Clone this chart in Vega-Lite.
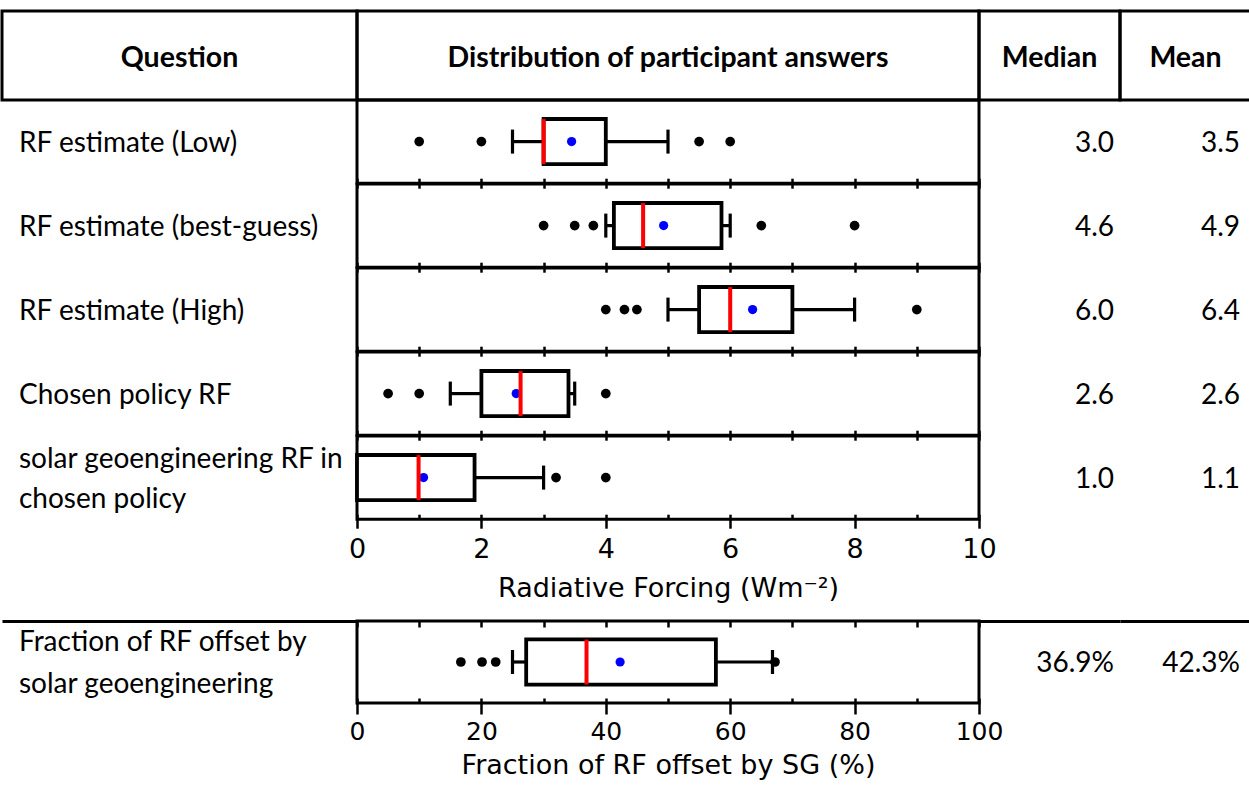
{
  "$schema": "https://vega.github.io/schema/vega-lite/v6.json",
  "padding": {"left": 0, "top": 9, "right": 0, "bottom": 0},
  "background": "white",
  "columns": 4,
  "spacing": 0,
  "bounds": "flush",
  "datasets": {
    "headers": [
      {"h": "Question"},
      {"h": "Distribution of participant answers"},
      {"h": "Median"},
      {"h": "Mean"}
    ],
    "stats": [
      {"key": "low", "q": "RF estimate (Low)", "lo": 2.5, "q1": 3.0, "med": 3.0, "q3": 4.0, "hi": 5.0, "mean": 3.45},
      {"key": "best", "q": "RF estimate (best-guess)", "lo": 4.0, "q1": 4.13, "med": 4.6, "q3": 5.86, "hi": 6.0, "mean": 4.93},
      {"key": "high", "q": "RF estimate (High)", "lo": 5.0, "q1": 5.5, "med": 6.0, "q3": 7.0, "hi": 8.0, "mean": 6.36},
      {"key": "policy", "q": "Chosen policy RF", "lo": 1.5, "q1": 2.0, "med": 2.63, "q3": 3.4, "hi": 3.5, "mean": 2.56},
      {"key": "sg", "q": "solar geoengineering RF in\nchosen policy", "lo": 0, "q1": 0, "med": 0.99, "q3": 1.89, "hi": 3.0, "mean": 1.07},
      {"key": "frac", "q": "Fraction of RF offset by\nsolar geoengineering", "lo": 25.0, "q1": 27.2, "med": 36.9, "q3": 57.7, "hi": 66.8, "mean": 42.3}
    ],
    "outliers": [
      {"key": "low", "v": 1.0}, {"key": "low", "v": 2.0}, {"key": "low", "v": 5.5}, {"key": "low", "v": 6.0},
      {"key": "best", "v": 3.0}, {"key": "best", "v": 3.5}, {"key": "best", "v": 3.8}, {"key": "best", "v": 6.5}, {"key": "best", "v": 8.0},
      {"key": "high", "v": 4.0}, {"key": "high", "v": 4.3}, {"key": "high", "v": 4.5}, {"key": "high", "v": 9.0},
      {"key": "policy", "v": 0.5}, {"key": "policy", "v": 1.0}, {"key": "policy", "v": 4.0},
      {"key": "sg", "v": 3.2}, {"key": "sg", "v": 4.0},
      {"key": "frac", "v": 16.7}, {"key": "frac", "v": 20.1}, {"key": "frac", "v": 22.3}, {"key": "frac", "v": 67.2}
    ]
  },
  "concat": [
    {"width": 355, "height": 89, "view": {"stroke": "black", "strokeWidth": 3}, "data": {"name": "headers"}, "transform": [{"filter": "datum.h === 'Question'"}], "mark": {"type": "text", "fontWeight": "bold", "fontSize": 28.5, "dy": 2}, "encoding": {"text": {"field": "h"}}},
    {"width": 622, "height": 89, "view": {"stroke": "black", "strokeWidth": 3}, "data": {"name": "headers"}, "transform": [{"filter": "datum.h === 'Distribution of participant answers'"}], "mark": {"type": "text", "fontWeight": "bold", "fontSize": 28.5, "dy": 2}, "encoding": {"text": {"field": "h"}}},
    {"width": 141, "height": 89, "view": {"stroke": "black", "strokeWidth": 3}, "data": {"name": "headers"}, "transform": [{"filter": "datum.h === 'Median'"}], "mark": {"type": "text", "fontWeight": "bold", "fontSize": 28.5, "dy": 2}, "encoding": {"text": {"field": "h"}}},
    {"width": 131, "height": 89, "view": {"stroke": "black", "strokeWidth": 3}, "data": {"name": "headers"}, "transform": [{"filter": "datum.h === 'Mean'"}], "mark": {"type": "text", "fontWeight": "bold", "fontSize": 28.5, "dy": 2}, "encoding": {"text": {"field": "h"}}},

    {"width": 355, "height": 83.2, "data": {"name": "stats"}, "transform": [{"filter": "datum.key === 'low'"}], "mark": {"type": "text", "align": "left", "dx": 17, "dy": 2, "lineBreak": "\n", "lineHeight": 40}, "encoding": {"text": {"field": "q"}, "x": {"datum": 0, "type": "quantitative", "scale": {"domain": [0, 1]}, "axis": null}}},
    {"width": 622, "height": 83.2, "view": {"stroke": "black", "strokeWidth": 3}, "data": {"name": "stats"}, "transform": [{"filter": "datum.key === 'low'"}],
     "encoding": {"y": {"field": "key", "type": "nominal", "axis": null, "scale": {"paddingInner": 0, "paddingOuter": 0.42}}},
     "layer": [
      {"mark": {"type": "rule", "color": "black", "strokeWidth": 3.2}, "encoding": {"x": {"field": "lo", "type": "quantitative", "scale": {"domain": [0, 10], "nice": false, "zero": false}, "axis": {"orient": "bottom", "values": [0,1,2,3,4,5,6,7,8,9,10], "labels": false, "domain": false, "tickSize": 10, "tickWidth": 2.5, "tickColor": "black", "offset": -5, "grid": false, "title": null}}, "x2": {"field": "q1"}}},
      {"mark": {"type": "rule", "color": "black", "strokeWidth": 3.2}, "encoding": {"x": {"field": "q3", "type": "quantitative"}, "x2": {"field": "hi"}}},
      {"mark": {"type": "tick", "color": "black", "opacity": 1, "thickness": 3.2, "size": 24, "orient": "vertical"}, "encoding": {"x": {"field": "lo", "type": "quantitative"}}},
      {"mark": {"type": "tick", "color": "black", "opacity": 1, "thickness": 3.2, "size": 24, "orient": "vertical"}, "encoding": {"x": {"field": "hi", "type": "quantitative"}}},
      {"mark": {"type": "bar", "fill": "white", "stroke": "black", "strokeWidth": 3.8, "opacity": 1}, "encoding": {"x": {"field": "q1", "type": "quantitative"}, "x2": {"field": "q3"}}},
      {"mark": {"type": "circle", "color": "#0000ff", "size": 85, "opacity": 1}, "encoding": {"x": {"field": "mean", "type": "quantitative"}}},
      {"mark": {"type": "tick", "color": "#ff0000", "opacity": 1, "thickness": 4, "size": 45, "orient": "vertical"}, "encoding": {"x": {"field": "med", "type": "quantitative"}}},
      {"data": {"name": "outliers"}, "transform": [{"filter": "datum.key === 'low'"}], "mark": {"type": "circle", "color": "black", "size": 95, "opacity": 1}, "encoding": {"x": {"field": "v", "type": "quantitative"}}}
     ]},
    {"width": 141, "height": 83.2, "data": {"name": "stats"}, "transform": [{"filter": "datum.key === 'low'"}], "mark": {"type": "text", "align": "right", "dx": -6, "dy": 2}, "encoding": {"text": {"field": "med", "type": "quantitative", "format": ".1f"}, "x": {"datum": 1, "type": "quantitative", "scale": {"domain": [0, 1]}, "axis": null}}},
    {"width": 131, "height": 83.2, "data": {"name": "stats"}, "transform": [{"filter": "datum.key === 'low'"}], "mark": {"type": "text", "align": "right", "dx": -11, "dy": 2}, "encoding": {"text": {"field": "mean", "type": "quantitative", "format": ".1f"}, "x": {"datum": 1, "type": "quantitative", "scale": {"domain": [0, 1]}, "axis": null}}},

    {"width": 355, "height": 83.2, "data": {"name": "stats"}, "transform": [{"filter": "datum.key === 'best'"}], "mark": {"type": "text", "align": "left", "dx": 17, "dy": 2, "lineBreak": "\n", "lineHeight": 40}, "encoding": {"text": {"field": "q"}, "x": {"datum": 0, "type": "quantitative", "scale": {"domain": [0, 1]}, "axis": null}}},
    {"width": 622, "height": 83.2, "view": {"stroke": "black", "strokeWidth": 3}, "data": {"name": "stats"}, "transform": [{"filter": "datum.key === 'best'"}],
     "encoding": {"y": {"field": "key", "type": "nominal", "axis": null, "scale": {"paddingInner": 0, "paddingOuter": 0.42}}},
     "layer": [
      {"mark": {"type": "rule", "color": "black", "strokeWidth": 3.2}, "encoding": {"x": {"field": "lo", "type": "quantitative", "scale": {"domain": [0, 10], "nice": false, "zero": false}, "axis": {"orient": "bottom", "values": [0,1,2,3,4,5,6,7,8,9,10], "labels": false, "domain": false, "tickSize": 10, "tickWidth": 2.5, "tickColor": "black", "offset": -5, "grid": false, "title": null}}, "x2": {"field": "q1"}}},
      {"mark": {"type": "rule", "color": "black", "strokeWidth": 3.2}, "encoding": {"x": {"field": "q3", "type": "quantitative"}, "x2": {"field": "hi"}}},
      {"mark": {"type": "tick", "color": "black", "opacity": 1, "thickness": 3.2, "size": 24, "orient": "vertical"}, "encoding": {"x": {"field": "lo", "type": "quantitative"}}},
      {"mark": {"type": "tick", "color": "black", "opacity": 1, "thickness": 3.2, "size": 24, "orient": "vertical"}, "encoding": {"x": {"field": "hi", "type": "quantitative"}}},
      {"mark": {"type": "bar", "fill": "white", "stroke": "black", "strokeWidth": 3.8, "opacity": 1}, "encoding": {"x": {"field": "q1", "type": "quantitative"}, "x2": {"field": "q3"}}},
      {"mark": {"type": "circle", "color": "#0000ff", "size": 85, "opacity": 1}, "encoding": {"x": {"field": "mean", "type": "quantitative"}}},
      {"mark": {"type": "tick", "color": "#ff0000", "opacity": 1, "thickness": 4, "size": 45, "orient": "vertical"}, "encoding": {"x": {"field": "med", "type": "quantitative"}}},
      {"data": {"name": "outliers"}, "transform": [{"filter": "datum.key === 'best'"}], "mark": {"type": "circle", "color": "black", "size": 95, "opacity": 1}, "encoding": {"x": {"field": "v", "type": "quantitative"}}}
     ]},
    {"width": 141, "height": 83.2, "data": {"name": "stats"}, "transform": [{"filter": "datum.key === 'best'"}], "mark": {"type": "text", "align": "right", "dx": -6, "dy": 2}, "encoding": {"text": {"field": "med", "type": "quantitative", "format": ".1f"}, "x": {"datum": 1, "type": "quantitative", "scale": {"domain": [0, 1]}, "axis": null}}},
    {"width": 131, "height": 83.2, "data": {"name": "stats"}, "transform": [{"filter": "datum.key === 'best'"}], "mark": {"type": "text", "align": "right", "dx": -11, "dy": 2}, "encoding": {"text": {"field": "mean", "type": "quantitative", "format": ".1f"}, "x": {"datum": 1, "type": "quantitative", "scale": {"domain": [0, 1]}, "axis": null}}},

    {"width": 355, "height": 83.2, "data": {"name": "stats"}, "transform": [{"filter": "datum.key === 'high'"}], "mark": {"type": "text", "align": "left", "dx": 17, "dy": 2, "lineBreak": "\n", "lineHeight": 40}, "encoding": {"text": {"field": "q"}, "x": {"datum": 0, "type": "quantitative", "scale": {"domain": [0, 1]}, "axis": null}}},
    {"width": 622, "height": 83.2, "view": {"stroke": "black", "strokeWidth": 3}, "data": {"name": "stats"}, "transform": [{"filter": "datum.key === 'high'"}],
     "encoding": {"y": {"field": "key", "type": "nominal", "axis": null, "scale": {"paddingInner": 0, "paddingOuter": 0.42}}},
     "layer": [
      {"mark": {"type": "rule", "color": "black", "strokeWidth": 3.2}, "encoding": {"x": {"field": "lo", "type": "quantitative", "scale": {"domain": [0, 10], "nice": false, "zero": false}, "axis": {"orient": "bottom", "values": [0,1,2,3,4,5,6,7,8,9,10], "labels": false, "domain": false, "tickSize": 10, "tickWidth": 2.5, "tickColor": "black", "offset": -5, "grid": false, "title": null}}, "x2": {"field": "q1"}}},
      {"mark": {"type": "rule", "color": "black", "strokeWidth": 3.2}, "encoding": {"x": {"field": "q3", "type": "quantitative"}, "x2": {"field": "hi"}}},
      {"mark": {"type": "tick", "color": "black", "opacity": 1, "thickness": 3.2, "size": 24, "orient": "vertical"}, "encoding": {"x": {"field": "lo", "type": "quantitative"}}},
      {"mark": {"type": "tick", "color": "black", "opacity": 1, "thickness": 3.2, "size": 24, "orient": "vertical"}, "encoding": {"x": {"field": "hi", "type": "quantitative"}}},
      {"mark": {"type": "bar", "fill": "white", "stroke": "black", "strokeWidth": 3.8, "opacity": 1}, "encoding": {"x": {"field": "q1", "type": "quantitative"}, "x2": {"field": "q3"}}},
      {"mark": {"type": "circle", "color": "#0000ff", "size": 85, "opacity": 1}, "encoding": {"x": {"field": "mean", "type": "quantitative"}}},
      {"mark": {"type": "tick", "color": "#ff0000", "opacity": 1, "thickness": 4, "size": 45, "orient": "vertical"}, "encoding": {"x": {"field": "med", "type": "quantitative"}}},
      {"data": {"name": "outliers"}, "transform": [{"filter": "datum.key === 'high'"}], "mark": {"type": "circle", "color": "black", "size": 95, "opacity": 1}, "encoding": {"x": {"field": "v", "type": "quantitative"}}}
     ]},
    {"width": 141, "height": 83.2, "data": {"name": "stats"}, "transform": [{"filter": "datum.key === 'high'"}], "mark": {"type": "text", "align": "right", "dx": -6, "dy": 2}, "encoding": {"text": {"field": "med", "type": "quantitative", "format": ".1f"}, "x": {"datum": 1, "type": "quantitative", "scale": {"domain": [0, 1]}, "axis": null}}},
    {"width": 131, "height": 83.2, "data": {"name": "stats"}, "transform": [{"filter": "datum.key === 'high'"}], "mark": {"type": "text", "align": "right", "dx": -11, "dy": 2}, "encoding": {"text": {"field": "mean", "type": "quantitative", "format": ".1f"}, "x": {"datum": 1, "type": "quantitative", "scale": {"domain": [0, 1]}, "axis": null}}},

    {"width": 355, "height": 83.2, "data": {"name": "stats"}, "transform": [{"filter": "datum.key === 'policy'"}], "mark": {"type": "text", "align": "left", "dx": 17, "dy": 2, "lineBreak": "\n", "lineHeight": 40}, "encoding": {"text": {"field": "q"}, "x": {"datum": 0, "type": "quantitative", "scale": {"domain": [0, 1]}, "axis": null}}},
    {"width": 622, "height": 83.2, "view": {"stroke": "black", "strokeWidth": 3}, "data": {"name": "stats"}, "transform": [{"filter": "datum.key === 'policy'"}],
     "encoding": {"y": {"field": "key", "type": "nominal", "axis": null, "scale": {"paddingInner": 0, "paddingOuter": 0.42}}},
     "layer": [
      {"mark": {"type": "rule", "color": "black", "strokeWidth": 3.2}, "encoding": {"x": {"field": "lo", "type": "quantitative", "scale": {"domain": [0, 10], "nice": false, "zero": false}, "axis": {"orient": "bottom", "values": [0,1,2,3,4,5,6,7,8,9,10], "labels": false, "domain": false, "tickSize": 10, "tickWidth": 2.5, "tickColor": "black", "offset": -5, "grid": false, "title": null}}, "x2": {"field": "q1"}}},
      {"mark": {"type": "rule", "color": "black", "strokeWidth": 3.2}, "encoding": {"x": {"field": "q3", "type": "quantitative"}, "x2": {"field": "hi"}}},
      {"mark": {"type": "tick", "color": "black", "opacity": 1, "thickness": 3.2, "size": 24, "orient": "vertical"}, "encoding": {"x": {"field": "lo", "type": "quantitative"}}},
      {"mark": {"type": "tick", "color": "black", "opacity": 1, "thickness": 3.2, "size": 24, "orient": "vertical"}, "encoding": {"x": {"field": "hi", "type": "quantitative"}}},
      {"mark": {"type": "bar", "fill": "white", "stroke": "black", "strokeWidth": 3.8, "opacity": 1}, "encoding": {"x": {"field": "q1", "type": "quantitative"}, "x2": {"field": "q3"}}},
      {"mark": {"type": "circle", "color": "#0000ff", "size": 85, "opacity": 1}, "encoding": {"x": {"field": "mean", "type": "quantitative"}}},
      {"mark": {"type": "tick", "color": "#ff0000", "opacity": 1, "thickness": 4, "size": 45, "orient": "vertical"}, "encoding": {"x": {"field": "med", "type": "quantitative"}}},
      {"data": {"name": "outliers"}, "transform": [{"filter": "datum.key === 'policy'"}], "mark": {"type": "circle", "color": "black", "size": 95, "opacity": 1}, "encoding": {"x": {"field": "v", "type": "quantitative"}}}
     ]},
    {"width": 141, "height": 83.2, "data": {"name": "stats"}, "transform": [{"filter": "datum.key === 'policy'"}], "mark": {"type": "text", "align": "right", "dx": -6, "dy": 2}, "encoding": {"text": {"field": "med", "type": "quantitative", "format": ".1f"}, "x": {"datum": 1, "type": "quantitative", "scale": {"domain": [0, 1]}, "axis": null}}},
    {"width": 131, "height": 83.2, "data": {"name": "stats"}, "transform": [{"filter": "datum.key === 'policy'"}], "mark": {"type": "text", "align": "right", "dx": -11, "dy": 2}, "encoding": {"text": {"field": "mean", "type": "quantitative", "format": ".1f"}, "x": {"datum": 1, "type": "quantitative", "scale": {"domain": [0, 1]}, "axis": null}}},

    {"width": 355, "height": 83.2, "data": {"name": "stats"}, "transform": [{"filter": "datum.key === 'sg'"}], "mark": {"type": "text", "align": "left", "dx": 17, "dy": -18, "lineBreak": "\n", "lineHeight": 40}, "encoding": {"text": {"field": "q"}, "x": {"datum": 0, "type": "quantitative", "scale": {"domain": [0, 1]}, "axis": null}}},
    {"width": 622, "height": 83.2, "view": {"stroke": "black", "strokeWidth": 3}, "data": {"name": "stats"}, "transform": [{"filter": "datum.key === 'sg'"}],
     "encoding": {"y": {"field": "key", "type": "nominal", "axis": null, "scale": {"paddingInner": 0, "paddingOuter": 0.42}}},
     "layer": [
      {"mark": {"type": "rule", "color": "black", "strokeWidth": 3.2}, "encoding": {"x": {"field": "lo", "type": "quantitative", "scale": {"domain": [0, 10], "nice": false, "zero": false}, "axis": {"orient": "bottom", "values": [0,1,2,3,4,5,6,7,8,9,10], "format": "d", "labelExpr": "datum.value % 2 === 0 ? datum.label : ''", "domain": false, "tickSize": {"condition": {"test": "datum.value % 2 === 0", "value": 14}, "value": 5}, "tickWidth": 2.5, "tickColor": "black", "offset": -5, "grid": false, "labelFont": "DejaVu Sans", "labelFontSize": 27, "labelColor": "black", "labelPadding": 8, "labelFlush": false, "labelOverlap": false, "labelBound": false, "title": "Radiative Forcing (Wm⁻²)", "titleFont": "DejaVu Sans", "titleFontSize": 27, "titleFontWeight": "normal", "titleColor": "black", "titlePadding": 13}}, "x2": {"field": "q1"}}},
      {"mark": {"type": "rule", "color": "black", "strokeWidth": 3.2}, "encoding": {"x": {"field": "q3", "type": "quantitative"}, "x2": {"field": "hi"}}},
      {"mark": {"type": "tick", "color": "black", "opacity": 1, "thickness": 3.2, "size": 24, "orient": "vertical"}, "encoding": {"x": {"field": "hi", "type": "quantitative"}}},
      {"mark": {"type": "bar", "fill": "white", "stroke": "black", "strokeWidth": 3.8, "opacity": 1}, "encoding": {"x": {"field": "q1", "type": "quantitative"}, "x2": {"field": "q3"}}},
      {"mark": {"type": "circle", "color": "#0000ff", "size": 85, "opacity": 1}, "encoding": {"x": {"field": "mean", "type": "quantitative"}}},
      {"mark": {"type": "tick", "color": "#ff0000", "opacity": 1, "thickness": 4, "size": 45, "orient": "vertical"}, "encoding": {"x": {"field": "med", "type": "quantitative"}}},
      {"data": {"name": "outliers"}, "transform": [{"filter": "datum.key === 'sg'"}], "mark": {"type": "circle", "color": "black", "size": 95, "opacity": 1}, "encoding": {"x": {"field": "v", "type": "quantitative"}}}
     ]},
    {"width": 141, "height": 83.2, "data": {"name": "stats"}, "transform": [{"filter": "datum.key === 'sg'"}], "mark": {"type": "text", "align": "right", "dx": -6, "dy": 2}, "encoding": {"text": {"field": "med", "type": "quantitative", "format": ".1f"}, "x": {"datum": 1, "type": "quantitative", "scale": {"domain": [0, 1]}, "axis": null}}},
    {"width": 131, "height": 83.2, "data": {"name": "stats"}, "transform": [{"filter": "datum.key === 'sg'"}], "mark": {"type": "text", "align": "right", "dx": -11, "dy": 2}, "encoding": {"text": {"field": "mean", "type": "quantitative", "format": ".1f"}, "x": {"datum": 1, "type": "quantitative", "scale": {"domain": [0, 1]}, "axis": null}}},

    {"width": 355, "height": 101, "data": {"name": "headers"}, "transform": [{"filter": "false"}], "mark": "text"},
    {"width": 622, "height": 101, "data": {"name": "headers"}, "transform": [{"filter": "false"}], "mark": "text"},
    {"width": 141, "height": 101, "data": {"name": "headers"}, "transform": [{"filter": "false"}], "mark": "text"},
    {"width": 131, "height": 101, "data": {"name": "headers"}, "transform": [{"filter": "false"}], "mark": "text"},

    {"width": 355, "height": 82, "data": {"name": "stats"}, "transform": [{"filter": "datum.key === 'frac'"}], "mark": {"type": "text", "align": "left", "dx": 17, "dy": -19, "lineBreak": "\n", "lineHeight": 42}, "encoding": {"text": {"field": "q"}, "x": {"datum": 0, "type": "quantitative", "scale": {"domain": [0, 1]}, "axis": {"orient": "top", "domain": true, "domainColor": "black", "domainWidth": 3, "ticks": false, "labels": false, "grid": false, "title": null}}}},
    {"width": 622, "height": 82, "view": {"stroke": "black", "strokeWidth": 3}, "data": {"name": "stats"}, "transform": [{"filter": "datum.key === 'frac'"}],
     "encoding": {"y": {"field": "key", "type": "nominal", "axis": null, "scale": {"paddingInner": 0, "paddingOuter": 0.41}}},
     "resolve": {"axis": {"x": "independent"}},
     "layer": [
      {"mark": {"type": "rule", "color": "black", "strokeWidth": 3.2}, "encoding": {"x": {"field": "lo", "type": "quantitative", "scale": {"domain": [0, 100], "nice": false, "zero": false}, "axis": {"orient": "bottom", "values": [0,10,20,30,40,50,60,70,80,90,100], "format": "d", "labelExpr": "datum.value % 20 === 0 ? datum.label : ''", "domain": false, "tickSize": {"condition": {"test": "datum.value % 20 === 0", "value": 16}, "value": 5}, "tickWidth": 2.5, "tickColor": "black", "offset": -5, "grid": false, "labelFont": "DejaVu Sans", "labelFontSize": 25, "labelColor": "black", "labelPadding": 5, "labelFlush": false, "labelOverlap": false, "labelBound": false, "title": "Fraction of RF offset by SG (%)", "titleFont": "DejaVu Sans", "titleFontSize": 27, "titleFontWeight": "normal", "titleColor": "black", "titlePadding": 8}}, "x2": {"field": "q1"}}},
      {"mark": {"type": "rule", "color": "black", "strokeWidth": 3.2}, "encoding": {"x": {"field": "q3", "type": "quantitative", "axis": {"orient": "top", "values": [0,10,20,30,40,50,60,70,80,90,100], "labels": false, "domain": false, "tickSize": 6, "tickWidth": 2.5, "tickColor": "black", "offset": -6, "grid": false, "title": null}}, "x2": {"field": "hi"}}},
      {"mark": {"type": "tick", "color": "black", "opacity": 1, "thickness": 3.2, "size": 24, "orient": "vertical"}, "encoding": {"x": {"field": "lo", "type": "quantitative", "axis": null}}},
      {"mark": {"type": "tick", "color": "black", "opacity": 1, "thickness": 3.2, "size": 24, "orient": "vertical"}, "encoding": {"x": {"field": "hi", "type": "quantitative", "axis": null}}},
      {"mark": {"type": "bar", "fill": "white", "stroke": "black", "strokeWidth": 3.8, "opacity": 1}, "encoding": {"x": {"field": "q1", "type": "quantitative", "axis": null}, "x2": {"field": "q3"}}},
      {"mark": {"type": "circle", "color": "#0000ff", "size": 85, "opacity": 1}, "encoding": {"x": {"field": "mean", "type": "quantitative", "axis": null}}},
      {"mark": {"type": "tick", "color": "#ff0000", "opacity": 1, "thickness": 4, "size": 45, "orient": "vertical"}, "encoding": {"x": {"field": "med", "type": "quantitative", "axis": null}}},
      {"data": {"name": "outliers"}, "transform": [{"filter": "datum.key === 'frac'"}], "mark": {"type": "circle", "color": "black", "size": 95, "opacity": 1}, "encoding": {"x": {"field": "v", "type": "quantitative", "axis": null}}}
     ]},
    {"width": 141, "height": 82, "data": {"name": "stats"}, "transform": [{"filter": "datum.key === 'frac'"}], "mark": {"type": "text", "align": "right", "dx": -6, "dy": 2, "text": {"expr": "format(datum.med, '.1f') + '%'"}}, "encoding": {"x": {"datum": 1, "type": "quantitative", "scale": {"domain": [0, 1]}, "axis": {"orient": "top", "domain": true, "domainColor": "black", "domainWidth": 3, "ticks": false, "labels": false, "grid": false, "title": null}}}},
    {"width": 131, "height": 82, "data": {"name": "stats"}, "transform": [{"filter": "datum.key === 'frac'"}], "mark": {"type": "text", "align": "right", "dx": -11, "dy": 2, "text": {"expr": "format(datum.mean, '.1f') + '%'"}}, "encoding": {"x": {"datum": 1, "type": "quantitative", "scale": {"domain": [0, 1]}, "axis": {"orient": "top", "domain": true, "domainColor": "black", "domainWidth": 3, "ticks": false, "labels": false, "grid": false, "title": null}}}}
  ],
  "config": {
    "view": {"stroke": null},
    "text": {"font": "Lato", "fontSize": 28, "color": "black"},
    "axis": {"labelFont": "DejaVu Sans", "titleFont": "DejaVu Sans"}
  }
}
